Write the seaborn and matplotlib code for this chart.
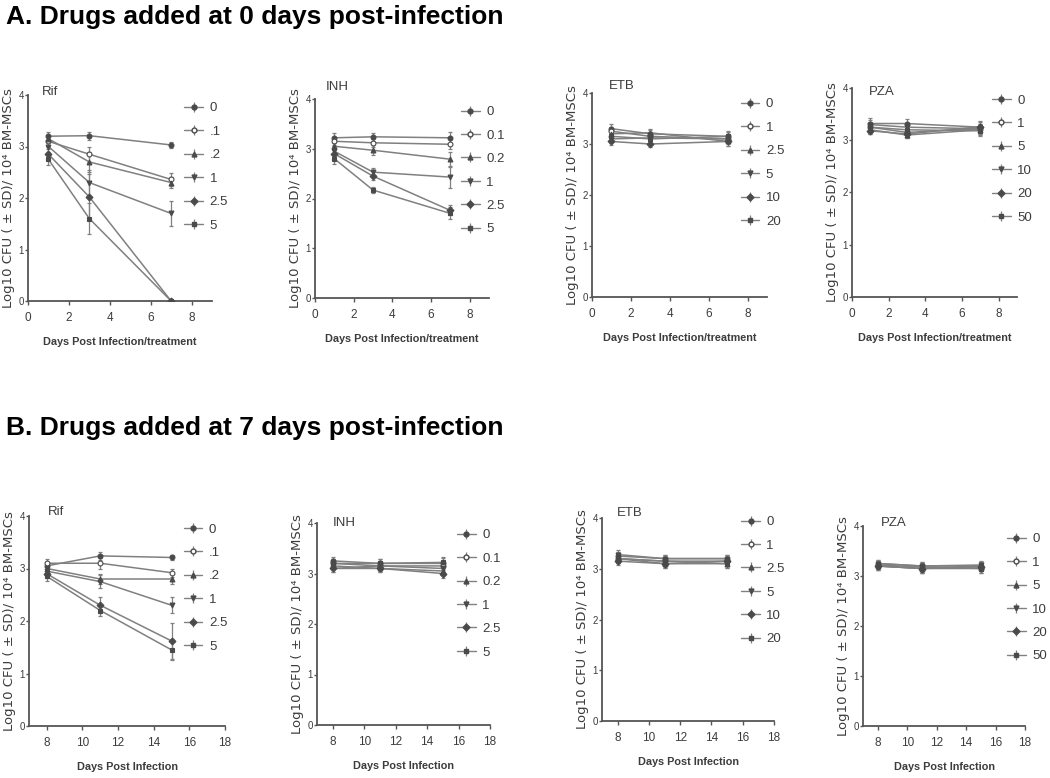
import matplotlib
matplotlib.use("Agg")
import matplotlib.pyplot as plt
from matplotlib.lines import Line2D
from matplotlib.legend_handler import HandlerTuple
import seaborn as sns
import pandas as pd

# ---------------- data ----------------
A_days = [1, 3, 7]
B_days = [8, 11, 15]

A_rif_conc = ["0", ".1", ".2", "1", "2.5", "5"]
A_rif_mean = [[3.20, 3.21, 3.03], [3.10, 2.85, 2.36], [3.15, 2.70, 2.30],
              [3.00, 2.30, 1.70], [2.85, 2.02, 0.00], [2.75, 1.60, 0.00]]
A_rif_sd = [[0.08, 0.08, 0.05], [0.10, 0.15, 0.12], [0.08, 0.20, 0.10],
            [0.10, 0.25, 0.25], [0.10, 0.45, 0.00], [0.10, 0.30, 0.00]]

A_inh_conc = ["0", "0.1", "0.2", "1", "2.5", "5"]
A_inh_mean = [[3.22, 3.24, 3.22], [3.15, 3.12, 3.09], [3.05, 2.97, 2.79],
              [2.95, 2.53, 2.43], [2.90, 2.45, 1.76], [2.80, 2.17, 1.70]]
A_inh_sd = [[0.10, 0.08, 0.12], [0.08, 0.08, 0.10], [0.08, 0.10, 0.15],
            [0.10, 0.08, 0.22], [0.10, 0.08, 0.10], [0.10, 0.06, 0.12]]

A_etb_conc = ["0", "1", "2.5", "5", "10", "20"]
A_etb_mean = [[3.30, 3.20, 3.15], [3.25, 3.15, 3.10], [3.20, 3.22, 3.05],
              [3.10, 3.12, 3.10], [3.05, 3.00, 3.05], [3.15, 3.10, 3.15]]
A_etb_sd = [[0.10, 0.08, 0.08], [0.08, 0.08, 0.08], [0.08, 0.08, 0.08],
            [0.08, 0.08, 0.08], [0.06, 0.06, 0.08], [0.08, 0.08, 0.10]]

A_pza_conc = ["0", "1", "5", "10", "20", "50"]
A_pza_mean = [[3.32, 3.32, 3.25], [3.25, 3.15, 3.22], [3.20, 3.10, 3.20],
              [3.30, 3.25, 3.22], [3.18, 3.12, 3.26], [3.25, 3.20, 3.18]]
A_pza_sd = [[0.10, 0.08, 0.10], [0.08, 0.08, 0.10], [0.08, 0.06, 0.10],
            [0.08, 0.08, 0.10], [0.06, 0.08, 0.10], [0.08, 0.08, 0.10]]

B_rif_conc = ["0", ".1", ".2", "1", "2.5", "5"]
B_rif_mean = [[3.05, 3.24, 3.21], [3.10, 3.10, 2.92], [3.00, 2.80, 2.80],
              [2.95, 2.75, 2.30], [2.90, 2.30, 1.62], [2.85, 2.20, 1.45]]
B_rif_sd = [[0.08, 0.08, 0.05], [0.08, 0.10, 0.08], [0.08, 0.10, 0.10],
            [0.08, 0.12, 0.15], [0.08, 0.15, 0.35], [0.08, 0.10, 0.20]]

B_inh_conc = ["0", "0.1", "0.2", "1", "2.5", "5"]
B_inh_mean = [[3.25, 3.20, 3.20], [3.20, 3.15, 3.15], [3.15, 3.10, 3.05],
              [3.10, 3.15, 3.10], [3.10, 3.10, 3.00], [3.20, 3.20, 3.22]]
B_inh_sd = [[0.08, 0.08, 0.10], [0.08, 0.08, 0.08], [0.08, 0.08, 0.08],
            [0.08, 0.08, 0.08], [0.08, 0.08, 0.08], [0.08, 0.08, 0.10]]

B_etb_conc = ["0", "1", "2.5", "5", "10", "20"]
B_etb_mean = [[3.25, 3.20, 3.20], [3.20, 3.15, 3.15], [3.20, 3.10, 3.10],
              [3.28, 3.20, 3.20], [3.15, 3.10, 3.15], [3.20, 3.15, 3.10]]
B_etb_sd = [[0.08, 0.08, 0.08], [0.08, 0.08, 0.08], [0.08, 0.08, 0.08],
            [0.08, 0.08, 0.08], [0.08, 0.08, 0.08], [0.08, 0.08, 0.08]]

B_pza_conc = ["0", "1", "5", "10", "20", "50"]
B_pza_mean = [[3.25, 3.20, 3.20], [3.20, 3.15, 3.15], [3.20, 3.15, 3.20],
              [3.25, 3.20, 3.22], [3.20, 3.15, 3.18], [3.22, 3.18, 3.15]]
B_pza_sd = [[0.08, 0.08, 0.08], [0.08, 0.08, 0.08], [0.08, 0.08, 0.08],
            [0.08, 0.08, 0.08], [0.08, 0.08, 0.08], [0.08, 0.08, 0.08]]

drug_names = ["Rif", "INH", "ETB", "PZA"]
ylabel_text = "Log10 CFU ( \u00b1 SD)/ 10\u2074 BM-MSCs"
A_xlabel = "Days Post Infection/treatment"
B_xlabel = "Days Post Infection"
A_title = "A. Drugs added at 0 days post-infection"
B_title = "B. Drugs added at 7 days post-infection"
A_xticks = [0, 2, 4, 6, 8]
B_xticks = [8, 10, 12, 14, 16, 18]
yticks = [0, 1, 2, 3, 4]

# ---------------- style ----------------
sns.set_theme(style="ticks")
plt.rcParams["font.family"] = ["Liberation Sans Narrow", "Liberation Sans", "DejaVu Sans"]

W, H = 1050, 778
fig = plt.figure(figsize=(W / 100, H / 100), dpi=100)
fig.patch.set_facecolor("white")

AX_COL = "#555555"
LINE_COL = "#808080"
MK_COL = "#4a4a4a"
TXT_COL = "#3c3c3c"
markers = ["o", "o", "^", "v", "D", "s"]
filled = [True, False, True, True, True, True]


def px_axes(l, t, r, b):
    return fig.add_axes([l / W, 1 - b / H, (r - l) / W, (b - t) / H])


A_rects = [(28, 95, 212, 301), (315, 99, 489, 298), (592, 93, 767, 297), (852, 88, 1017, 297)]
B_rects = [(29, 516, 225, 726), (317, 523, 490, 725), (602, 518, 774, 721), (863, 526, 1025, 726)]
A_leg = [(0.85, 0.965), (0.84, 0.965), (0.85, 0.975), (0.85, 0.97)]
B_leg = [(0.79, 0.965), (0.81, 0.97), (0.81, 1.01), (0.89, 0.965)]
A_lab = [(0.12, 1.015), (0.13, 1.06), (0.17, 1.035), (0.18, 0.98)]
B_lab = [(0.14, 1.02), (0.16, 1.0), (0.16, 1.025), (0.19, 1.015)]

A_sets = [(A_rif_conc, A_rif_mean, A_rif_sd), (A_inh_conc, A_inh_mean, A_inh_sd),
          (A_etb_conc, A_etb_mean, A_etb_sd), (A_pza_conc, A_pza_mean, A_pza_sd)]
B_sets = [(B_rif_conc, B_rif_mean, B_rif_sd), (B_inh_conc, B_inh_mean, B_inh_sd),
          (B_etb_conc, B_etb_mean, B_etb_sd), (B_pza_conc, B_pza_mean, B_pza_sd)]


def draw_panel(rect, days, conc, means, sds, name, xlim, xticks, xlabel, leg_anchor, lab_pos):
    ax = px_axes(*rect)
    rows = []
    for c, m, s in zip(conc, means, sds):
        for d, mv, sv in zip(days, m, s):
            rows.append({"day": d, "cfu": mv, "sd": sv, "conc": c})
    df = pd.DataFrame(rows)
    pal = {c: LINE_COL for c in conc}
    sns.lineplot(data=df, x="day", y="cfu", hue="conc", palette=pal, ax=ax,
                 legend=False, linewidth=1.1, errorbar=None, sort=False)
    handles = []
    for i, c in enumerate(conc):
        sub = df[df["conc"] == c]
        ax.errorbar(sub["day"], sub["cfu"], yerr=sub["sd"], fmt="none",
                    ecolor=LINE_COL, elinewidth=0.9, capsize=1.5, capthick=0.9, zorder=3)
        ax.plot(sub["day"], sub["cfu"], linestyle="none", marker=markers[i], markersize=3.5,
                markeredgecolor=MK_COL, markerfacecolor=MK_COL if filled[i] else "white",
                markeredgewidth=0.8, zorder=4)
        h_line = Line2D([], [], color=LINE_COL, lw=1.0, marker=markers[i], markersize=3.5,
                        markeredgecolor=MK_COL,
                        markerfacecolor=MK_COL if filled[i] else "white")
        h_bar = Line2D([], [], color=LINE_COL, marker="|", linestyle="none",
                       markersize=7, markeredgewidth=0.9)
        handles.append((h_bar, h_line))
    ax.legend(handles, conc, handler_map={tuple: HandlerTuple(ndivide=1)},
              loc="upper left", bbox_to_anchor=leg_anchor, frameon=False,
              fontsize=9.5, labelspacing=0.85, handlelength=1.4, handletextpad=0.5,
              borderpad=0, borderaxespad=0, labelcolor=TXT_COL)
    ax.set_xlim(*xlim)
    ax.set_ylim(0, 4)
    ax.set_xticks(xticks)
    ax.set_yticks(yticks)
    ax.set_facecolor("white")
    sns.despine(ax=ax)
    for sp in ("left", "bottom"):
        ax.spines[sp].set_color(AX_COL)
        ax.spines[sp].set_linewidth(1.3)
    ax.tick_params(axis="x", length=3, width=1, color=AX_COL, pad=5,
                   labelsize=8.5, labelcolor=TXT_COL)
    ax.tick_params(axis="y", length=2, width=1, color=AX_COL, pad=1,
                   labelsize=7, labelcolor=TXT_COL)
    ax.set_xlabel(xlabel, fontsize=7.8, fontweight="bold", color=TXT_COL, labelpad=9)
    ax.set_ylabel(ylabel_text, fontsize=9.5, color=TXT_COL,
                  family=["DejaVu Sans"])
    wpx = rect[2] - rect[0]
    ax.yaxis.set_label_coords(-13 / wpx, 0.5)
    ax.text(lab_pos[0], lab_pos[1], name, transform=ax.transAxes, fontsize=9.5,
            color=TXT_COL, ha="center", va="center")
    return ax


for k in range(4):
    c, m, s = A_sets[k]
    draw_panel(A_rects[k], A_days, c, m, s, drug_names[k], (0, 9), A_xticks,
               A_xlabel, A_leg[k], A_lab[k])
    c, m, s = B_sets[k]
    draw_panel(B_rects[k], B_days, c, m, s, drug_names[k], (7, 18), B_xticks,
               B_xlabel, B_leg[k], B_lab[k])

fig.text(6 / W, 1 - 17 / H, A_title, fontsize=19, fontweight="bold",
         family=["Liberation Sans", "DejaVu Sans"], color="black", va="center", ha="left")
fig.text(6 / W, 1 - 428 / H, B_title, fontsize=19, fontweight="bold",
         family=["Liberation Sans", "DejaVu Sans"], color="black", va="center", ha="left")

fig.savefig("out.png", dpi=100, facecolor="white")
